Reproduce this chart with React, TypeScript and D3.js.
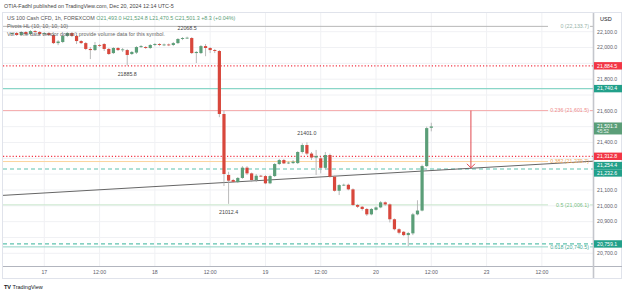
import { scaleLinear, line as d3_line } from "d3";

// hourly bars, first bar is Dec 16 17:00 (hour -7 from Dec 17 00:00)
const firstHour = -7;
const opens = [
  22085, 22092, 22079, 22098, 22085, 22104, 22098, 22085, 22092, 22079,
  22028, 22035, 22073, 22092, 22073, 22041, 22028, 21991, 21984, 22016,
  22022, 21991, 21965, 21997, 21984, 21984, 21959, 21968, 22003, 22003,
  21997, 22016, 22022, 22016, 22019, 22016, 22028, 22054, 22060, 22060,
  21965, 21965, 22009, 21997, 21984, 21978, 21580, 21195, 21163, 21150, 21176,
  21241, 21205, 21163, 21190, 21188, 21142, 21188, 21264, 21289, 21268,
  21270, 21270, 21340, 21384, 21330, 21305, 21300, 21240, 21321, 21184,
  21095, 21131, 21133, 21104, 21005, 20994, 20980, 20946, 20975, 20990,
  21022, 21009, 20915, 20852, 20836, 20815, 20826, 20946, 20970, 21251,
  21493,
];
const highs = [
  22098, 22098, 22104, 22104, 22110, 22110, 22104, 22098, 22098, 22085,
  22047, 22079, 22098, 22098, 22079, 22047, 22035, 22003, 22035, 22022,
  22028, 21997, 22003, 22003, 21997, 21991, 21978, 22009, 22016, 22009,
  22022, 22028, 22028, 22025, 22025, 22035, 22060, 22066, 22068.5, 22066,
  21978, 22016, 22022, 22003, 21991, 21984, 21600, 21215, 21170, 21182, 21251,
  21251, 21210, 21201, 21195, 21195, 21195, 21270, 21296, 21296, 21280,
  21289, 21345, 21395, 21401, 21340, 21353, 21310, 21340, 21330, 21190,
  21137, 21140, 21140, 21110, 21012, 20999, 20986, 20986, 20996, 21030,
  21028, 21015, 20920, 20858, 20840, 20835, 20955, 21035, 21260, 21500,
  21524.8,
];
const lows = [
  22079, 22073, 22073, 22079, 22079, 22092, 22079, 22073, 22073, 22022,
  22015, 22028, 22066, 22066, 22022, 22022, 21984, 21927, 21978, 22003,
  21978, 21953, 21959, 21978, 21972, 21885.8, 21953, 21959, 21997, 21991,
  21991, 22009, 22009, 22009, 22009, 22009, 22022, 22047, 22054, 21959,
  21902, 21959, 21945, 21965, 21965, 21560, 21125, 21012.4, 21144, 21144, 21170,
  21195, 21150, 21150, 21182, 21137, 21137, 21182, 21258, 21264, 21264,
  21264, 21264, 21330, 21320, 21290, 21195, 21205, 21230, 21178, 21090,
  21068, 21125, 21098, 21000, 20986, 20970, 20936, 20940, 20970, 20985,
  21000, 20895, 20845, 20820, 20808, 20745, 20815, 20940, 20965, 21245,
  21470.5,
];
const closes = [
  22092, 22079, 22098, 22085, 22104, 22098, 22085, 22092, 22079, 22028,
  22038, 22073, 22092, 22073, 22041, 22028, 21991, 21984, 22016, 22012,
  21991, 21959, 21997, 21984, 21988, 21953, 21972, 22003, 22009, 21997,
  22016, 22022, 22016, 22019, 22016, 22028, 22054, 22060, 22062, 21965,
  21972, 22009, 21997, 21984, 21978, 21580, 21201, 21159, 21152, 21176, 21241,
  21205, 21163, 21190, 21188, 21142, 21188, 21264, 21289, 21268, 21273,
  21279, 21340, 21384, 21330, 21305, 21315, 21240, 21321, 21184, 21095,
  21131, 21133, 21104, 21005, 20994, 20980, 20946, 20980, 20990, 21022,
  21009, 20915, 20852, 20830, 20815, 20828, 20946, 20970, 21251, 21491,
  21501.3,
];

const priceTicks = [20700, 20800, 20900, 21000, 21100, 21200, 21300, 21400, 21500, 21600, 21700, 21800, 21900, 22000, 22100];
const timeTickHours = [0, 12, 24, 36, 48, 60, 72, 84, 96, 108];
const timeTickLabels = ["17", "12:00", "18", "12:00", "19", "12:00", "20", "12:00", "23", "12:00"];

const fibLevels = ["0", "0.236", "0.382", "0.5", "0.618"];
const fibPrices = [22133.7, 21601.5, 21279.7, 21006.1, 20740.5];
const fibLineColors = ["#b8b8b8", "#f5a9a9", "#fbd49e", "#c9e7cb", "#8fd3c5"];
const fibTextColors = ["#97b4a9", "#f08a8a", "#f2a654", "#78c07f", "#3fab96"];

// horizontal levels drawn by the author
const levelPrices = [21884.5, 21740.4, 21312.8, 21232.6, 20759.1];
const levelKinds = ["dotted", "solid", "dotted", "dashed", "dashed"];
const levelColors = ["#f23645", "#8ad6c8", "#f23645", "#5fc2ae", "#5fc2ae"];

const axisLabelPrices = [21884.5, 21740.4, 21312.8, 21254.4, 21232.6, 20759.1];
const axisLabelColors = ["#f23645", "#22a08a", "#f23645", "#22a08a", "#22a08a", "#22a08a"];

const trendHours = [-8.96, 119.1];
const trendPrices = [21066, 21282];

const pivotHours = [31, 18, 57, 40];
const pivotValues = [22068.5, 21885.8, 21401.0, 21012.4];
const pivotIsHigh = [true, false, true, false];

const arrowHour = 92.6;
const arrowPrices = [21601.5, 21240];

const lastPrice = 21501.3;
const countdown = "45:52";

const W = 625;
const H = 294;
const plotLeft = 3;
const plotRight = 593;
const plotTop = 13;
const plotBottom = 266;
const font = "'Liberation Sans', Arial, sans-serif";
const green = "#5b9e78";
const red = "#d8473c";
const wick = "#a9a9a9";
const labelH = 7.4;

const fmt = (v: number) =>
  v.toLocaleString("en-US", { minimumFractionDigits: 1, maximumFractionDigits: 1 });

export default function App() {
  const x = scaleLinear().domain([0, 84]).range([44.3, 431.3]);
  const y = scaleLinear().domain([20700, 22100]).range([253.3, 31.7]);

  const bars = opens.map((o, i) => ({
    h: firstHour + i,
    o,
    hi: highs[i],
    lo: lows[i],
    c: closes[i],
  }));

  const trend = d3_line<number>()
    .x((h) => x(h))
    .y((_, i) => y(trendPrices[i]))(trendHours);

  // coloured axis labels pushed apart so they don't overlap (like TradingView)
  const labelY: number[] = [];
  axisLabelPrices.forEach((p, i) => {
    let ly = y(p);
    if (i > 0 && ly - labelY[i - 1] < labelH) ly = labelY[i - 1] + labelH;
    labelY.push(ly);
  });

  // tick labels hidden where a coloured label sits
  const taken = [...labelY, y(lastPrice) + 2];
  const visibleTicks = priceTicks.filter((p) => taken.every((t) => Math.abs(y(p) - t) > 6.5));

  const ax = x(arrowHour);

  return (
    <div style={{ position: "fixed", left: 0, top: 0 }}>
      <svg width={W} height={H} viewBox={`0 0 ${W} ${H}`} style={{ display: "block", background: "#fff" }} fontFamily={font}>
        <defs>
          <clipPath id="plot">
            <rect x={plotLeft} y={plotTop} width={plotRight - plotLeft} height={plotBottom - plotTop} />
          </clipPath>
        </defs>

        {/* grid */}
        <g stroke="#f0f1f4" strokeWidth={1}>
          {priceTicks.map((p) => (
            <line key={p} x1={plotLeft} x2={plotRight} y1={y(p)} y2={y(p)} />
          ))}
          {timeTickHours.map((h) => (
            <line key={h} x1={x(h)} x2={x(h)} y1={plotTop} y2={plotBottom} />
          ))}
        </g>

        <g clipPath="url(#plot)">
          {/* fib retracement */}
          {fibPrices.map((p, i) => (
            <line key={p} x1={plotLeft} x2={548} y1={y(p)} y2={y(p)} stroke={fibLineColors[i]} strokeWidth={1} />
          ))}
          {fibPrices.map((p, i) => (
            <line key={"r" + p} x1={590} x2={plotRight} y1={y(p)} y2={y(p)} stroke={fibLineColors[i]} strokeWidth={1} />
          ))}

          {/* levels */}
          {levelPrices.map((p, i) => (
            <line
              key={p}
              x1={plotLeft}
              x2={plotRight}
              y1={y(p)}
              y2={y(p)}
              stroke={levelColors[i]}
              strokeWidth={1.2}
              strokeDasharray={levelKinds[i] === "dotted" ? "1.2,2" : levelKinds[i] === "dashed" ? "4,3" : undefined}
            />
          ))}

          {/* trend line */}
          <path d={trend ?? ""} stroke="#666" strokeWidth={1} fill="none" />

          {/* candles */}
          {bars.map((b) => {
            const cx = x(b.h);
            const up = b.c >= b.o;
            const top = y(Math.max(b.o, b.c));
            const bot = y(Math.min(b.o, b.c));
            return (
              <g key={b.h}>
                <line x1={cx} x2={cx} y1={y(b.hi)} y2={y(b.lo)} stroke={wick} strokeWidth={0.8} />
                <rect x={cx - 1.6} y={top} width={3.2} height={Math.max(0.8, bot - top)} fill={up ? green : red} />
              </g>
            );
          })}

          {/* pivots */}
          {pivotHours.map((h, i) => (
            <text
              key={h}
              x={x(h)}
              y={pivotIsHigh[i] ? y(pivotValues[i]) - 7 : y(pivotValues[i]) + 10}
              fontSize={5.3}
              fill="#444"
              textAnchor="middle"
            >
              {pivotValues[i].toFixed(1)}
            </text>
          ))}

          {/* arrow */}
          <g stroke="#e0474f" strokeWidth={1} fill="none">
            <line x1={ax} x2={ax} y1={y(arrowPrices[0])} y2={y(arrowPrices[1])} />
            <path d={`M${ax - 4},${y(arrowPrices[1]) - 4} L${ax},${y(arrowPrices[1])} L${ax + 4},${y(arrowPrices[1]) - 4}`} />
          </g>

          {/* fib labels */}
          {fibPrices.map((p, i) => (
            <text key={p} x={589} y={y(p) + 1.8} fontSize={5.3} fill={fibTextColors[i]} textAnchor="end">
              {`${fibLevels[i]} (${fmt(p)})`}
            </text>
          ))}
        </g>

        {/* frame */}
        <g fill="none" stroke="#e0e3eb" strokeWidth={1}>
          <rect x={2.5} y={12.5} width={619} height={266} />
          <line x1={plotLeft} x2={622} y1={plotBottom + 0.5} y2={plotBottom + 0.5} stroke="#b2b5be" />
        </g>
        <line x1={plotRight + 0.5} x2={plotRight + 0.5} y1={plotTop} y2={278} stroke="#c4c6cc" strokeWidth={1.6} />

        {/* price axis */}
        <text x={600} y={20.5} fontSize={5.5} fill="#131722">USD</text>
        {visibleTicks.map((p) => (
          <text key={p} x={597} y={y(p) + 1.8} fontSize={5.2} fill="#5d606b">
            {fmt(p)}
          </text>
        ))}
        {axisLabelPrices.map((p, i) => (
          <g key={p}>
            <rect x={594} y={labelY[i] - labelH / 2} width={28} height={labelH} fill={axisLabelColors[i]} />
            <text x={597} y={labelY[i] + 1.8} fontSize={5.2} fill="#fff">
              {fmt(p)}
            </text>
          </g>
        ))}
        <g>
          <rect x={594} y={y(lastPrice) - 4} width={28} height={12} fill={green} />
          <text x={597} y={y(lastPrice) + 1.8} fontSize={5.2} fill="#fff">
            {fmt(lastPrice)}
          </text>
          <text x={597} y={y(lastPrice) + 7} fontSize={4.8} fill="#e8f3ec">
            {countdown}
          </text>
        </g>

        {/* time axis */}
        {timeTickHours.map((h, i) => (
          <text key={h} x={x(h)} y={274} fontSize={5.2} fill="#5d606b" textAnchor="middle">
            {timeTickLabels[i]}
          </text>
        ))}

        {/* header and legend */}
        <text x={4} y={8} fontSize={5.4} fill="#444">
          OTIA-Fadhl published on TradingView.com, Dec 20, 2024 12:14 UTC-5
        </text>
        <text x={7} y={20} fontSize={5.4} fill="#555">
          <tspan>US 100 Cash CFD, 1h, FOREXCOM </tspan>
          <tspan fill={green}>
            {" "}O21,493.0 H21,524.8 L21,470.5 C21,501.3 +8.3 (+0.04%)
          </tspan>
        </text>
        <text x={7} y={28} fontSize={5.4} fill="#666">
          Pivots HL (10, 10, 10, 10)
        </text>
        <text x={7} y={36} fontSize={5.4} fill="#666">
          Vol · The data vendor doesn't provide volume data for this symbol.
        </text>

        {/* logo */}
        <text x={4} y={289} fontSize={5.5} fill="#131722">
          <tspan fontWeight="bold">TV</tspan>
          <tspan dx={1.5}>TradingView</tspan>
        </text>
      </svg>
    </div>
  );
}
